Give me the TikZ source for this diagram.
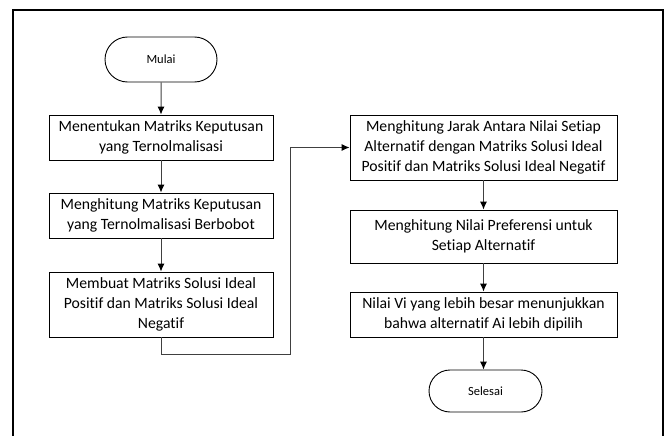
\documentclass[tikz,border=0pt]{standalone}
\usepackage{fontspec}
\setmainfont{Carlito}[Ligatures=NoCommon]
\usetikzlibrary{shapes.misc,arrows.meta}
\begin{document}
\begin{tikzpicture}[x=1pt,y=-1pt,
  proc/.style={draw=black,line width=0.9pt,align=center,inner sep=0pt,
    font=\fontsize{15.7}{20}\selectfont},
  term/.style={draw=black,line width=0.9pt,rounded rectangle,inner sep=0pt,
    minimum width=112pt,minimum height=45pt,font=\fontsize{12.5}{14}\selectfont},
  conn/.style={draw=black!75,line width=1pt,-{Latex[length=8pt,width=7pt,color=black]}},
  frame/.style={draw=black,line width=2.5pt}]
\useasboundingbox (0,0) rectangle (667,436);
\draw[frame] (13,445) -- (13,10) -- (663,10) -- (663,445);
\node[term] (mulai) at (161,59.5) {Mulai};
\node[proc,minimum width=224pt,minimum height=45pt] (b1) at (161,137.5) {Menentukan Matriks Keputusan\\yang Ternolmalisasi};
\node[proc,minimum width=224pt,minimum height=45pt] (b2) at (161,215.5) {Menghitung Matriks Keputusan\\yang Ternolmalisasi Berbobot};
\node[proc,minimum width=224pt,minimum height=65pt] (b3) at (161,304.5) {Membuat Matriks Solusi Ideal\\Positif dan Matriks Solusi Ideal\\Negatif};
\node[proc,minimum width=267pt,minimum height=65pt] (b4) at (483.5,147.5) {Menghitung Jarak Antara Nilai Setiap\\Alternatif dengan Matriks Solusi Ideal\\Positif dan Matriks Solusi Ideal Negatif};
\node[proc,minimum width=267pt,minimum height=53pt] (b5) at (483.5,236.5) {Menghitung Nilai Preferensi untuk\\Setiap Alternatif};
\node[proc,minimum width=267pt,minimum height=45pt] (b6) at (483.5,314.5) {Nilai Vi yang lebih besar menunjukkan\\bahwa alternatif Ai lebih dipilih};
\node[term,minimum width=113pt,minimum height=42pt] (selesai) at (485.5,391) {Selesai};
\coordinate (c1) at (161,354);
\coordinate (c2) at (290,354);
\coordinate (c3) at (290,147.5);
\path[conn] (mulai) -- (b1);
\path[conn] (b1) -- (b2);
\path[conn] (b2) -- (b3);
\path[conn] (b3.south) -- (c1) -- (c2) -- (c3) -- (b4.west);
\path[conn] (b4) -- (b5);
\path[conn] (b5) -- (b6);
\path[conn] (b6.south) -- (b6.south |- selesai.north);
\end{tikzpicture}
\end{document}
